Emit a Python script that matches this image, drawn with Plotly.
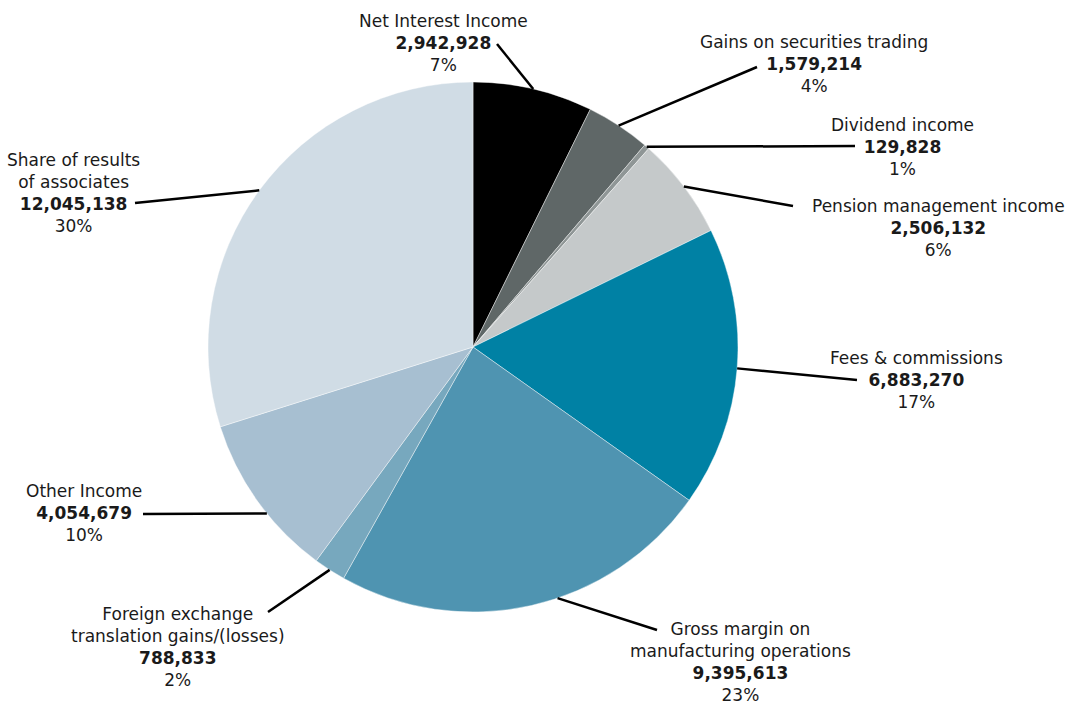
import plotly.graph_objects as go
import math

W, H = 1087, 704

labels = ["Net Interest Income", "Gains on securities trading", "Dividend income",
          "Pension management income", "Fees & commissions",
          "Gross margin on manufacturing operations",
          "Foreign exchange translation gains/(losses)", "Other Income",
          "Share of results of associates"]
label_text = ["Net Interest Income", "Gains on securities trading", "Dividend income",
              "Pension management income", "Fees & commissions",
              "Gross margin on<br>manufacturing operations",
              "Foreign exchange<br>translation gains/(losses)", "Other Income",
              "Share of results<br>of associates"]
values = [2942928, 1579214, 129828, 2506132, 6883270, 9395613, 788833, 4054679, 12045138]
pct_labels = ["7%", "4%", "1%", "6%", "17%", "23%", "2%", "10%", "30%"]
colors = ["#000000", "#5f6767", "#8f9696", "#c5c9ca", "#0081a4",
          "#4f94b1", "#77a8be", "#a7bfd1", "#d0dce5"]

# layout (pixel) positions of label blocks and leader line outer ends
label_cx = [443, 814, 902, 938, 916, 740, 178, 84, 73]
label_cy = [42.5, 64.5, 146.5, 228, 379.5, 662, 646.5, 513, 192.5]
line_end = [(497, 44), (757, 67), (855, 146), (793, 206), (857, 380),
            (657, 630), (268, 612), (143, 514), (135, 203)]
angle_offset = [0, 0, 0, 0, 0, -5.9, 0, -3.3, 0]

CX, CY, R = 473, 347, 265

def px(x):
    return x / W

def py(y):
    return 1 - y / H

fig = go.Figure(go.Pie(
    labels=labels, values=values, sort=False, direction="clockwise", rotation=0,
    marker=dict(colors=colors, line=dict(color="rgba(255,255,255,0.6)", width=0.7)),
    textinfo="none", hoverinfo="label+value+percent", showlegend=False,
    domain=dict(x=[px(CX - R), px(CX + R)], y=[py(CY + R), py(CY - R)]),
))

total = sum(values)
cum = 0
shapes, annotations = [], []
for i, v in enumerate(values):
    mid = (cum + v / 2) / total * 360 + angle_offset[i]
    cum += v
    a = math.radians(mid)
    ex = CX + R * math.sin(a)
    ey = CY - R * math.cos(a)
    lx, ly = line_end[i]
    shapes.append(dict(type="line", xref="paper", yref="paper",
                       x0=px(ex), y0=py(ey), x1=px(lx), y1=py(ly),
                       line=dict(color="#000000", width=2.5)))
    txt = f"{label_text[i]}<br><b>{values[i]:,}</b><br>{pct_labels[i]}"
    annotations.append(dict(text=txt, xref="paper", yref="paper",
                            x=px(label_cx[i]), y=py(label_cy[i]),
                            xanchor="center", yanchor="middle", align="center",
                            showarrow=False,
                            font=dict(family="DejaVu Sans", size=17, color="#1a1a1a")))

fig.update_layout(width=W, height=H, margin=dict(l=0, r=0, t=0, b=0),
                  paper_bgcolor="white", plot_bgcolor="white",
                  shapes=shapes, annotations=annotations)
fig.write_html("out.html")
